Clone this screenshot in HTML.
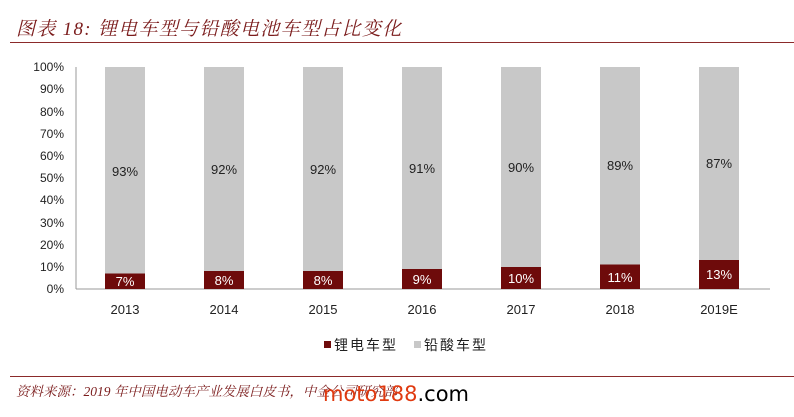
<!DOCTYPE html>
<html><head><meta charset="utf-8"><style>
body{margin:0;background:#fff;width:794px;height:417px;overflow:hidden;position:relative;font-family:"Liberation Sans","Noto Sans CJK SC",sans-serif}
.t{position:absolute;left:16px;top:14px;font-size:19px;font-style:italic;color:#7b1c1c;font-family:"Liberation Serif","Noto Serif CJK SC",serif;letter-spacing:1.3px}
.l{position:absolute;left:10px;width:784px;height:1px;background:#8b2a2a}
.src{position:absolute;left:16px;top:380px;font-size:13.5px;font-style:italic;color:#7b1c1c;font-family:"Liberation Serif","Noto Serif CJK SC",serif}
.wm{position:absolute;left:323px;top:382px;font-size:21px;font-family:"DejaVu Sans",sans-serif;color:#e03a10}
</style></head><body>
<div class="t">图表 18:  锂电车型与铅酸电池车型占比变化</div>
<div class="l" style="top:42px"></div>
<svg width="794" height="417" style="position:absolute;left:0;top:0">
<g font-size="12" fill="#222" text-anchor="end" font-family="Liberation Sans, sans-serif">
<text x="64" y="71">100%</text><text x="64" y="93">90%</text><text x="64" y="116">80%</text><text x="64" y="138">70%</text><text x="64" y="160">60%</text><text x="64" y="182">50%</text><text x="64" y="204">40%</text><text x="64" y="227">30%</text><text x="64" y="249">20%</text><text x="64" y="271">10%</text><text x="64" y="293">0%</text>
</g>
<line x1="76" y1="67" x2="76" y2="289" stroke="#999"/>
<line x1="76" y1="289" x2="770" y2="289" stroke="#999"/>
<g font-family="Liberation Sans, sans-serif" font-size="13" text-anchor="middle">
<rect x="105" y="67" width="40" height="206.5" fill="#c8c8c8"/><rect x="105" y="273.5" width="40" height="15.5" fill="#6e0b0b"/>
<text x="125" y="176" fill="#222">93%</text><text x="125" y="286" fill="#fff">7%</text>
<rect x="204" y="67" width="40" height="204" fill="#c8c8c8"/><rect x="204" y="271" width="40" height="18" fill="#6e0b0b"/>
<text x="224" y="174" fill="#222">92%</text><text x="224" y="285" fill="#fff">8%</text>
<rect x="303" y="67" width="40" height="204" fill="#c8c8c8"/><rect x="303" y="271" width="40" height="18" fill="#6e0b0b"/>
<text x="323" y="174" fill="#222">92%</text><text x="323" y="285" fill="#fff">8%</text>
<rect x="402" y="67" width="40" height="202" fill="#c8c8c8"/><rect x="402" y="269" width="40" height="20" fill="#6e0b0b"/>
<text x="422" y="173" fill="#222">91%</text><text x="422" y="284" fill="#fff">9%</text>
<rect x="501" y="67" width="40" height="200" fill="#c8c8c8"/><rect x="501" y="267" width="40" height="22" fill="#6e0b0b"/>
<text x="521" y="172" fill="#222">90%</text><text x="521" y="283" fill="#fff">10%</text>
<rect x="600" y="67" width="40" height="197.5" fill="#c8c8c8"/><rect x="600" y="264.5" width="40" height="24.5" fill="#6e0b0b"/>
<text x="620" y="170" fill="#222">89%</text><text x="620" y="282" fill="#fff">11%</text>
<rect x="699" y="67" width="40" height="193" fill="#c8c8c8"/><rect x="699" y="260" width="40" height="29" fill="#6e0b0b"/>
<text x="719" y="168" fill="#222">87%</text><text x="719" y="279" fill="#fff">13%</text>
</g>
<g font-family="Liberation Sans, sans-serif" font-size="13" fill="#222" text-anchor="middle">
<text x="125" y="314">2013</text><text x="224" y="314">2014</text><text x="323" y="314">2015</text><text x="422" y="314">2016</text><text x="521" y="314">2017</text><text x="620" y="314">2018</text><text x="719" y="314">2019E</text>
</g>
<rect x="324" y="341" width="7" height="7" fill="#6e0b0b"/>
<text x="334" y="350" font-size="14" fill="#222" font-family="Noto Sans CJK SC, sans-serif" letter-spacing="2">锂电车型</text>
<rect x="414" y="341" width="7" height="7" fill="#c8c8c8"/>
<text x="424" y="350" font-size="14" fill="#222" font-family="Noto Sans CJK SC, sans-serif" letter-spacing="2">铅酸车型</text>
</svg>
<div class="l" style="top:376px"></div>
<div class="src">资料来源：2019 年中国电动车产业发展白皮书，中金公司研究部</div>
<div class="wm">moto188<span style="color:#000">.com</span></div>
</body></html>
